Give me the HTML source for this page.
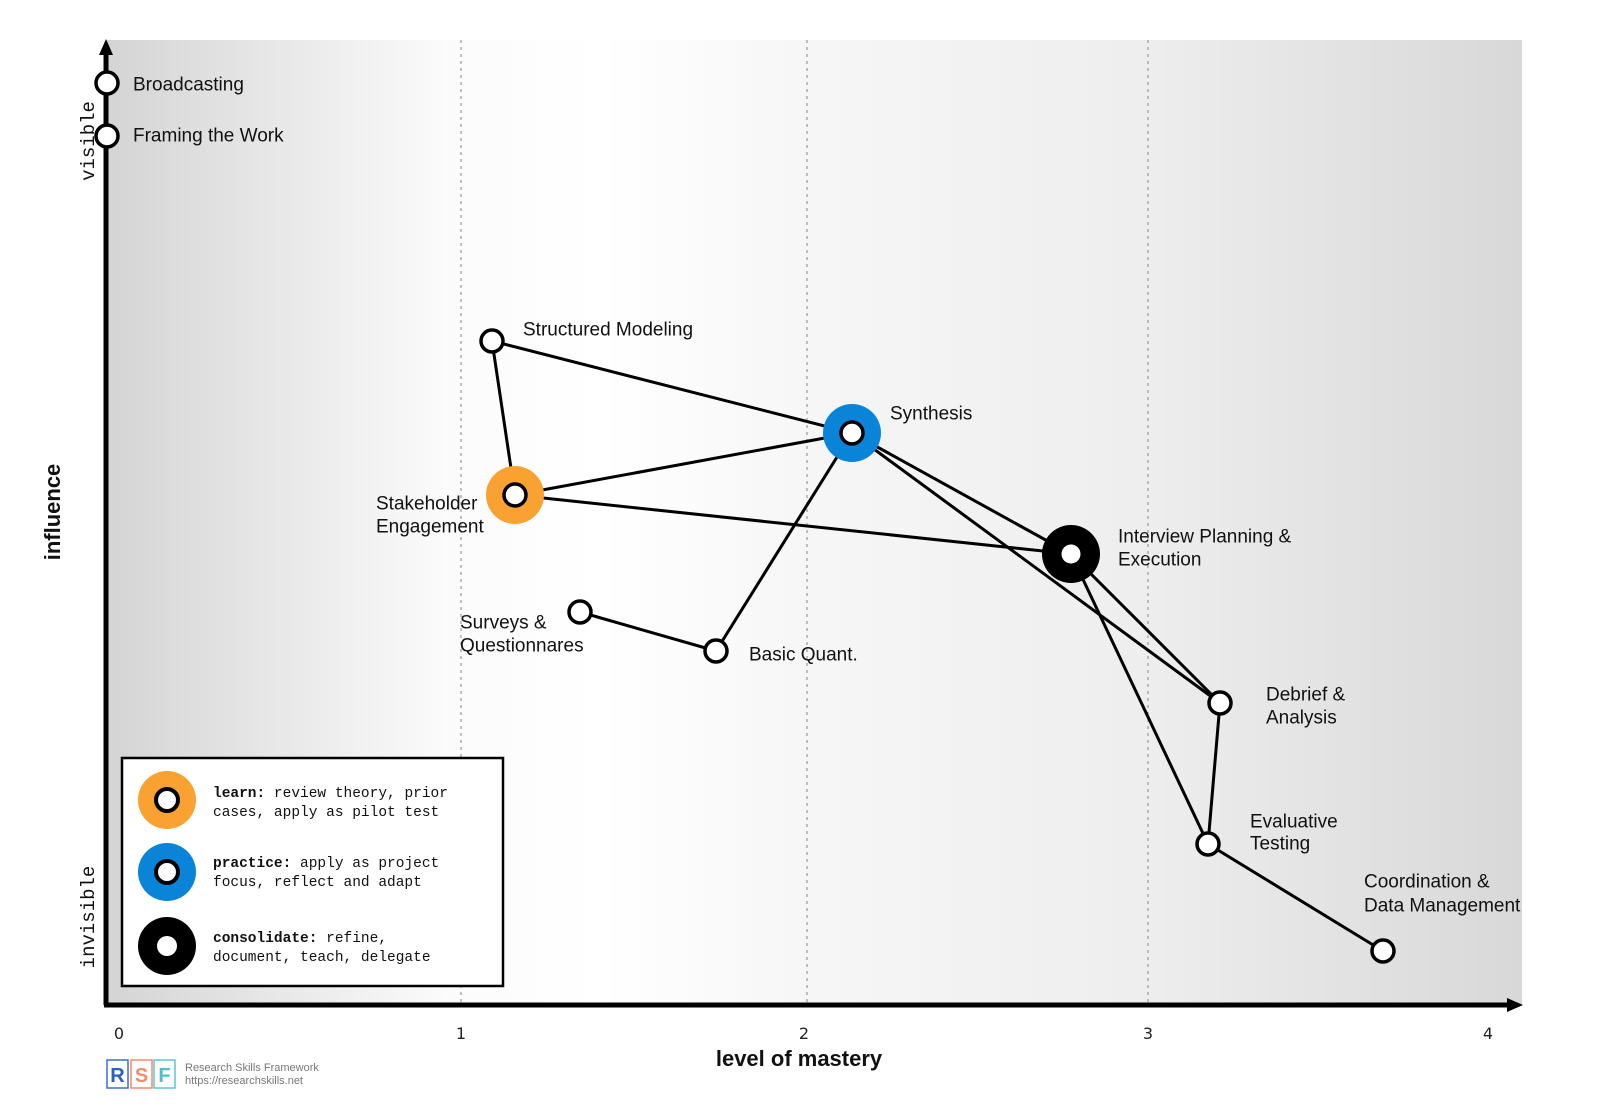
<!DOCTYPE html>
<html><head><meta charset="utf-8"><style>
html,body{margin:0;padding:0;background:#fff;}
svg{display:block;font-family:"Liberation Sans",sans-serif;}
.lbl{font-size:19px;fill:#111;}
.mono{font-family:"Liberation Mono",monospace;}
</style></head><body>
<svg width="1600" height="1108" viewBox="0 0 1600 1108" xmlns="http://www.w3.org/2000/svg">
<defs>
<linearGradient id="bg" x1="107" y1="0" x2="1522" y2="0" gradientUnits="userSpaceOnUse">
<stop offset="0" stop-color="#d4d4d4"/>
<stop offset="0.24" stop-color="#fbfbfb"/>
<stop offset="0.35" stop-color="#ffffff"/>
<stop offset="0.5" stop-color="#f6f6f6"/>
<stop offset="0.73" stop-color="#eeeeee"/>
<stop offset="1" stop-color="#d8d8d8"/>
</linearGradient>
</defs>
<rect x="107" y="40" width="1415" height="965" fill="url(#bg)"/>
<g stroke="#999" stroke-width="1.2" stroke-dasharray="3,4">
<line x1="461" y1="40" x2="461" y2="1005"/>
<line x1="807" y1="40" x2="807" y2="1005"/>
<line x1="1148" y1="40" x2="1148" y2="1005"/>
</g>
<!-- axes -->
<line x1="106" y1="1005" x2="106" y2="55" stroke="#000" stroke-width="5"/>
<polygon points="106,39 99,55 113,55" fill="#000"/>
<line x1="104" y1="1005" x2="1508" y2="1005" stroke="#000" stroke-width="5"/>
<polygon points="1523,1005 1507,998 1507,1012" fill="#000"/>
<!-- tick labels -->
<g font-family="DejaVu Sans, sans-serif" font-size="16" fill="#222" text-anchor="middle">
<text x="119" y="1039">0</text><text x="461" y="1039">1</text><text x="804" y="1039">2</text><text x="1148" y="1039">3</text><text x="1488" y="1039">4</text>
</g>
<text x="799" y="1066" text-anchor="middle" font-size="22" font-weight="bold" fill="#111">level of mastery</text>
<text transform="translate(60,512) rotate(-90)" text-anchor="middle" font-size="22" font-weight="bold" fill="#111">influence</text>
<text class="mono" transform="translate(94,141) rotate(-90)" text-anchor="middle" font-size="19" fill="#111">visible</text>
<text class="mono" transform="translate(94,917) rotate(-90)" text-anchor="middle" font-size="19" fill="#111">invisible</text>
<!-- edges -->
<g stroke="#000" stroke-width="3" fill="none">
<line x1="492" y1="341" x2="852" y2="433"/>
<line x1="492" y1="341" x2="515" y2="495"/>
<line x1="515" y1="495" x2="852" y2="433"/>
<line x1="515" y1="495" x2="1071" y2="554"/>
<line x1="852" y1="433" x2="716" y2="651"/>
<line x1="580" y1="612" x2="716" y2="651"/>
<line x1="852" y1="433" x2="1071" y2="554"/>
<line x1="852" y1="433" x2="1220" y2="703"/>
<line x1="1071" y1="554" x2="1220" y2="703"/>
<line x1="1071" y1="554" x2="1208" y2="844"/>
<line x1="1220" y1="703" x2="1208" y2="844"/>
<line x1="1208" y1="844" x2="1383" y2="951"/>
</g>
<!-- halos -->
<circle cx="852" cy="433" r="29" fill="#0a84d8"/>
<circle cx="515" cy="495" r="29" fill="#f9a232"/>
<circle cx="1071" cy="554" r="29" fill="#000"/>
<circle cx="1071" cy="554" r="9.5" fill="#fff"/>
<!-- nodes -->
<g fill="#fff" stroke="#000" stroke-width="3.5">
<circle cx="107" cy="83" r="11"/>
<circle cx="107" cy="136" r="11"/>
<circle cx="492" cy="341" r="11"/>
<circle cx="852" cy="433" r="11"/>
<circle cx="515" cy="495" r="11"/>
<circle cx="580" cy="612" r="11"/>
<circle cx="716" cy="651" r="11"/>
<circle cx="1220" cy="703" r="11"/>
<circle cx="1208" cy="844" r="11"/>
<circle cx="1383" cy="951" r="11"/>
</g>
<!-- labels -->
<g class="lbl" dominant-baseline="central">
<text x="133" y="85">Broadcasting</text>
<text x="133" y="136">Framing the Work</text>
<text x="523" y="330">Structured Modeling</text>
<text x="890" y="414">Synthesis</text>
<text x="376" y="504">Stakeholder</text>
<text x="376" y="527">Engagement</text>
<text x="1118" y="537">Interview Planning &amp;</text>
<text x="1118" y="560">Execution</text>
<text x="460" y="623">Surveys &amp;</text>
<text x="460" y="646">Questionnares</text>
<text x="749" y="655">Basic Quant.</text>
<text x="1266" y="695">Debrief &amp;</text>
<text x="1266" y="718">Analysis</text>
<text x="1250" y="822">Evaluative</text>
<text x="1250" y="844">Testing</text>
<text x="1364" y="882">Coordination &amp;</text>
<text x="1364" y="906">Data Management</text>
</g>
<!-- legend -->
<rect x="122" y="758" width="381" height="228" fill="#fff" stroke="#000" stroke-width="2.5"/>
<circle cx="167" cy="800" r="29" fill="#f9a232"/>
<circle cx="167" cy="800" r="11" fill="#fff" stroke="#000" stroke-width="4"/>
<circle cx="167" cy="872" r="29" fill="#0a84d8"/>
<circle cx="167" cy="872" r="11" fill="#fff" stroke="#000" stroke-width="4"/>
<circle cx="167" cy="946" r="29" fill="#000"/>
<circle cx="167" cy="946" r="10" fill="#fff"/>
<g class="mono" font-size="14.5" fill="#111">
<text x="213" y="797"><tspan font-weight="bold">learn:</tspan> review theory, prior</text>
<text x="213" y="816">cases, apply as pilot test</text>
<text x="213" y="867"><tspan font-weight="bold">practice:</tspan> apply as project</text>
<text x="213" y="886">focus, reflect and adapt</text>
<text x="213" y="942"><tspan font-weight="bold">consolidate:</tspan> refine,</text>
<text x="213" y="961">document, teach, delegate</text>
</g>
<!-- logo -->
<rect x="107" y="1060" width="21" height="28" fill="none" stroke="#3a6fd0" stroke-width="1.5"/>
<rect x="131" y="1060" width="21" height="28" fill="none" stroke="#f08a6a" stroke-width="1.5"/>
<rect x="154" y="1060" width="21" height="28" fill="none" stroke="#5cc8d0" stroke-width="1.5"/>
<g font-size="20" font-weight="bold" text-anchor="middle">
<text x="117.5" y="1082" fill="#2b5fc8">R</text>
<text x="141.5" y="1082" fill="#f08a6a">S</text>
<text x="164.5" y="1082" fill="#4cc0c8">F</text>
</g>
<text x="185" y="1071" font-size="11" fill="#777">Research Skills Framework</text>
<text x="185" y="1084" font-size="11" fill="#777">https://researchskills.net</text>
</svg>
</body></html>
